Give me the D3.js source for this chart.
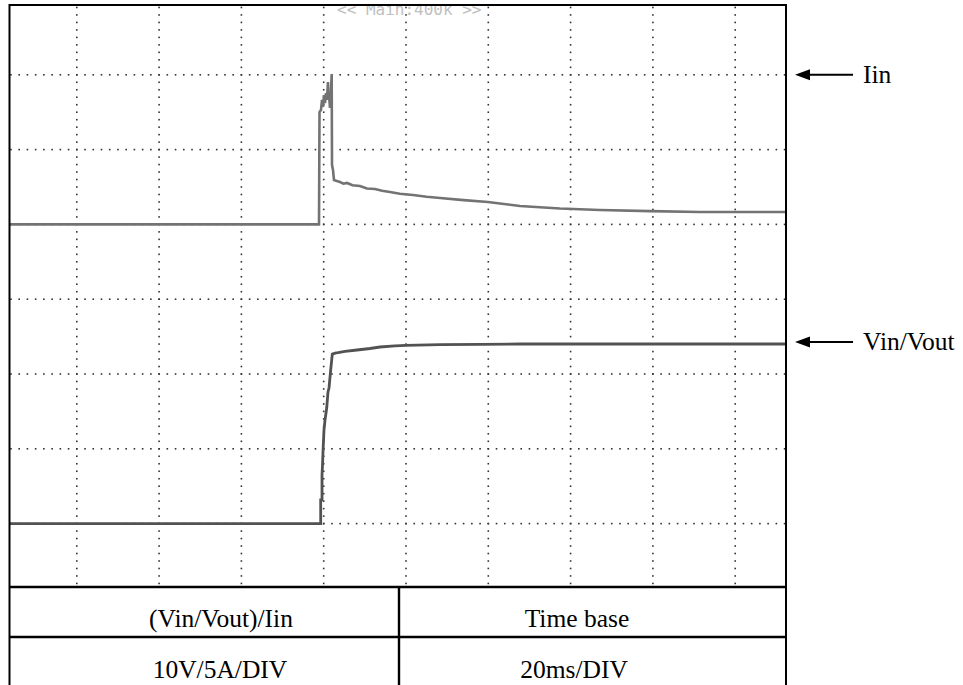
<!DOCTYPE html>
<html>
<head>
<meta charset="utf-8">
<script src="https://cdn.jsdelivr.net/npm/d3@7"></script>
<style>
  html, body { margin: 0; padding: 0; background: #fff; }
  svg { display: block; }
</style>
</head>
<body>
<svg id="chart" width="963" height="685"></svg>
<script>
// ---- Data (read from the scope capture) ----
// time in ms (20 ms/div, 0 = left edge of the 10-division screen)
const iinTime = [3.5, 78.86, 78.98, 79.34, 79.59, 79.83, 80.07, 80.32, 80.56, 80.80, 81.04, 81.17, 81.29, 81.53, 81.77, 81.94, 82.02, 82.26, 82.5, 83.2, 83.96, 84.8, 85.66, 87.0, 88.82, 90.5, 92.47, 94.2, 96.11, 98.5, 101.7, 105.0, 108.3, 114.0, 119.9, 127.7, 137.4, 147.1, 159.3, 171.4, 192.3];
// input current in A (5 A/div)
const iinAmps = [0.0, 0.0, 7.51, 7.65, 8.32, 7.85, 8.65, 8.11, 8.78, 8.32, 9.52, 8.32, 8.65, 7.78, 8.98, 10.05, 3.97, 3.64, 2.97, 2.90, 2.83, 2.72, 2.77, 2.62, 2.57, 2.40, 2.37, 2.25, 2.17, 2.05, 1.97, 1.85, 1.76, 1.62, 1.50, 1.23, 1.06, 0.96, 0.89, 0.83, 0.83];

const vinTime = [3.5, 79.27, 79.27, 79.59, 79.59, 79.71, 79.83, 80.07, 80.32, 80.73, 81.04, 81.29, 81.70, 82.09, 83.0, 83.49, 85.18, 88.09, 91.25, 93.68, 97.33, 100.0, 108.3, 118.0, 127.7, 147.1, 192.3];
// input/output voltage in V (10 V/div)
const vinVolts = [0.0, 0.0, 3.16, 3.16, 6.50, 7.83, 9.57, 12.51, 13.85, 15.45, 17.59, 18.13, 20.54, 22.67, 22.81, 22.85, 23.01, 23.21, 23.41, 23.61, 23.75, 23.84, 23.93, 23.97, 24.01, 24.01, 24.01];

const traceLabels = ["Iin", "Vin/Vout"];
const tableHeaders = ["(Vin/Vout)/Iin", "Time base"];
const tableValues = ["10V/5A/DIV", "20ms/DIV"];
const scopeTitle = "<< Main:400k >>";

// ---- Layout ----
const svg = d3.select("#chart");
const frame = { left: 9.5, top: 5, right: 786, bottom: 587 };

const x = d3.scaleLinear().domain([0, 200]).range([-5.5, 817.5]);   // 10 div x 82.3 px
const yDiv = d3.scaleLinear().domain([-4, 4]).range([598.4, 0]);    // 8 div x 74.8 px
const yIin = a => yDiv(1 + a / 5);
const yVin = v => yDiv(-3 + v / 10);

svg.append("defs").append("clipPath").attr("id", "plotclip")
  .append("rect")
  .attr("x", frame.left).attr("y", frame.top)
  .attr("width", frame.right - frame.left).attr("height", frame.bottom - frame.top);

const plot = svg.append("g").attr("clip-path", "url(#plotclip)");

// scope header text (drawn under the grid)
plot.append("text")
  .attr("x", 337).attr("y", 15)
  .attr("font-family", "'DejaVu Sans Mono', monospace")
  .attr("font-size", 16)
  .attr("fill", "#c0c0c0")
  .text(scopeTitle);

// dotted graticule
const grid = plot.append("g").attr("fill", "#333");
const vLines = d3.range(1, 10).map(i => i * 20);
const hLines = d3.range(-3, 4);
const vDots = d3.range(-40, 41).map(j => j / 10);
const hDots = d3.range(0, 101).map(j => j * 2);
vLines.forEach(t => {
  grid.selectAll(null).data(vDots).enter().append("rect")
    .attr("x", x(t) - 0.8).attr("y", d => yDiv(d) - 0.8)
    .attr("width", 1.6).attr("height", 1.6);
});
hLines.forEach(k => {
  grid.selectAll(null).data(hDots).enter().append("rect")
    .attr("x", d => x(d) - 0.8).attr("y", yDiv(k) - 0.8)
    .attr("width", 1.6).attr("height", 1.6);
});

// traces
const iinData = iinTime.map((t, i) => [t, iinAmps[i]]);
const vinData = vinTime.map((t, i) => [t, vinVolts[i]]);

plot.append("path")
  .datum(iinData)
  .attr("fill", "none")
  .attr("stroke", "#737373")
  .attr("stroke-width", 2.6)
  .attr("stroke-linejoin", "miter")
  .attr("d", d3.line().x(d => x(d[0])).y(d => yIin(d[1])));

plot.append("path")
  .datum(vinData)
  .attr("fill", "none")
  .attr("stroke", "#525252")
  .attr("stroke-width", 2.8)
  .attr("d", d3.line().x(d => x(d[0])).y(d => yVin(d[1])));

// frame + table
const lines = svg.append("g").attr("stroke", "#000");
lines.append("rect")
  .attr("x", frame.left).attr("y", frame.top)
  .attr("width", frame.right - frame.left).attr("height", 700)
  .attr("fill", "none").attr("stroke-width", 2);
lines.append("line").attr("x1", frame.left).attr("x2", frame.right)
  .attr("y1", frame.bottom).attr("y2", frame.bottom).attr("stroke-width", 2.6);
lines.append("line").attr("x1", frame.left).attr("x2", frame.right)
  .attr("y1", 637).attr("y2", 637).attr("stroke-width", 2.6);
lines.append("line").attr("x1", 399).attr("x2", 399)
  .attr("y1", frame.bottom).attr("y2", 690).attr("stroke-width", 2.4);

const serif = "'Liberation Serif', 'Times New Roman', serif";
const fs = 25.5;
svg.selectAll(".th").data(tableHeaders).enter().append("text")
  .attr("x", (d, i) => [221, 577][i]).attr("y", 626.5)
  .attr("text-anchor", "middle").attr("font-family", serif).attr("font-size", fs)
  .attr("fill", "#000").text(d => d);
svg.selectAll(".tv").data(tableValues).enter().append("text")
  .attr("x", (d, i) => [220, 574][i]).attr("y", 677.5)
  .attr("text-anchor", "middle").attr("font-family", serif).attr("font-size", fs)
  .attr("fill", "#000").text(d => d);

// arrow annotations pointing at the traces
const labelY = [yDiv(3), 342];
const ann = svg.append("g");
traceLabels.forEach((lab, i) => {
  const yy = labelY[i];
  ann.append("line").attr("x1", 806).attr("x2", 853)
    .attr("y1", yy).attr("y2", yy).attr("stroke", "#000").attr("stroke-width", 2);
  ann.append("path")
    .attr("d", `M795,${yy} L810,${yy - 5.5} L810,${yy + 5.5} Z`)
    .attr("fill", "#000");
  ann.append("text").attr("x", 863).attr("y", yy + 8)
    .attr("font-family", serif).attr("font-size", fs).attr("fill", "#000")
    .text(lab);
});
</script>
</body>
</html>
